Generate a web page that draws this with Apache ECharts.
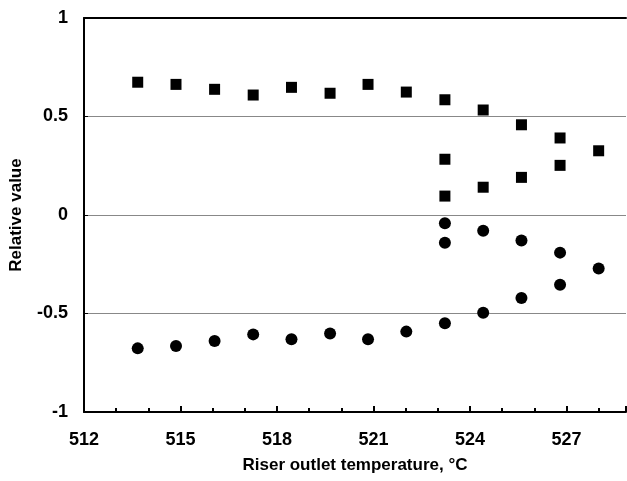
<!DOCTYPE html>
<html><head><meta charset="utf-8">
<script src="https://cdn.jsdelivr.net/npm/echarts@6/dist/echarts.min.js"></script>
<style>html,body{margin:0;padding:0;background:#fff}#c{width:627px;height:481px}</style>
</head><body><div id="c"></div>
<script>
const xUpper = [513.67, 514.86, 516.06, 517.26, 518.45, 519.65, 520.83, 522.02, 523.22, 523.22, 523.22, 524.41, 524.41, 525.6, 525.6, 526.8, 526.8, 528.0];
const yUpper = [0.674, 0.663, 0.638, 0.609, 0.648, 0.618, 0.663, 0.624, 0.585, 0.283, 0.096, 0.533, 0.141, 0.458, 0.191, 0.391, 0.252, 0.326];
const xLower = [513.67, 514.86, 516.06, 517.26, 518.45, 519.65, 520.83, 522.02, 523.22, 523.22, 523.22, 524.41, 524.41, 525.6, 525.6, 526.8, 526.8, 528.0];
const yLower = [-0.677, -0.665, -0.640, -0.606, -0.631, -0.601, -0.631, -0.592, -0.550, -0.042, -0.141, -0.496, -0.080, -0.421, -0.130, -0.354, -0.191, -0.271];
const xTitle = 'Riser outlet temperature, °C';
const yTitle = 'Relative value';

const font = 'Liberation Sans, Arial, Helvetica, sans-serif';
const chart = echarts.init(document.getElementById('c'), null, {renderer:'canvas'});
chart.setOption({
  animation: false,
  grid: {left: 84, right: 1, top: 18, bottom: 69, containLabel: false},
  xAxis: [{
    type: 'value', min: 512, max: 528.85, interval: 3,
    name: xTitle, nameLocation: 'middle', nameGap: 45,
    nameTextStyle: {fontFamily: font, fontWeight: 'bold', fontSize: 17, color: '#000'},
    axisLine: {show: true, onZero: false, lineStyle: {color: '#000', width: 2}},
    axisTick: {show: true, inside: true, length: 6, lineStyle: {color: '#000', width: 2}},
    minorTick: {show: true, splitNumber: 3, length: 4, lineStyle: {color: '#000', width: 2}},
    axisLabel: {fontFamily: font, fontWeight: 'bold', fontSize: 18, color: '#000', margin: 19, showMaxLabel: false,
      formatter: v => (Math.abs(v - Math.round(v)) < 1e-6 ? String(Math.round(v)) : '')},
    splitLine: {show: false}
  }, {
    type: 'value', position: 'top', min: 512, max: 528.85,
    axisLine: {show: true, onZero: false, lineStyle: {color: '#000', width: 2}},
    axisTick: {show: false}, axisLabel: {show: false}, splitLine: {show: false}
  }],
  yAxis: {
    type: 'value', min: -1, max: 1, interval: 0.5,
    name: yTitle, nameLocation: 'middle', nameGap: 59, nameRotate: 90,
    nameTextStyle: {fontFamily: font, fontWeight: 'bold', fontSize: 17, color: '#000'},
    axisLine: {show: true, onZero: false, lineStyle: {color: '#000', width: 2}},
    axisTick: {show: true, inside: true, length: 4, lineStyle: {color: '#000', width: 1}},
    axisLabel: {fontFamily: font, fontWeight: 'bold', fontSize: 18, color: '#000', margin: 16},
    splitLine: {show: true, lineStyle: {color: '#888', width: 1}}
  },
  series: [{
    type: 'scatter', symbol: 'rect', symbolSize: 11,
    itemStyle: {color: '#000', opacity: 1},
    data: xUpper.map((x, i) => [x, yUpper[i]])
  }, {
    type: 'scatter', symbol: 'circle', symbolSize: 12,
    itemStyle: {color: '#000', opacity: 1},
    data: xLower.map((x, i) => [x, yLower[i]])
  }]
});
</script></body></html>
